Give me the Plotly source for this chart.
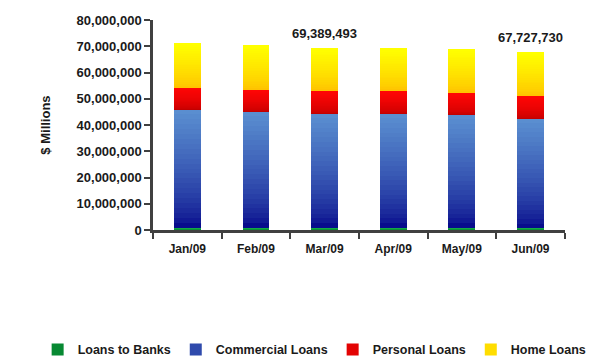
import plotly.graph_objects as go

months = ["Jan/09", "Feb/09", "Mar/09", "Apr/09", "May/09", "Jun/09"]
loans_to_banks = [820000, 810000, 820000, 810000, 800000, 700000]
commercial_loans = [45200000, 44500000, 43600000, 43500000, 43100000, 41700000]
personal_loans = [8400000, 8300000, 8800000, 8900000, 8500000, 8800000]
home_loans = [16900000, 16800000, 16169493, 16100000, 16600000, 16527730]
labelled_months = ["Mar/09", "Jun/09"]

# name, values, bottom colour, top colour, gradient exponent
series = [
    ("Loans to Banks", loans_to_banks, (0, 120, 40), (20, 170, 70), 1.0),
    ("Commercial Loans", commercial_loans, (8, 12, 140), (90, 142, 208), 0.7),
    ("Personal Loans", personal_loans, (195, 0, 0), (255, 5, 5), 0.6),
    ("Home Loans", home_loans, (255, 195, 0), (255, 255, 0), 0.8),
]

N = 24
fig = go.Figure()


def lerp(c1, c2, t):
    return "rgb(%d,%d,%d)" % tuple(round(a + (b - a) * t) for a, b in zip(c1, c2))


for name, vals, cbot, ctop, gexp in series:
    for i in range(N):
        t = (i / (N - 1)) ** gexp
        show = (i == N // 3)
        fig.add_trace(go.Bar(
            x=months,
            y=[v / N for v in vals],
            name=name,
            legendgroup=name,
            showlegend=show,
            marker=dict(color=lerp(cbot, ctop, t), line=dict(width=0)),
            hoverinfo="skip",
        ))

font_fam = "Liberation Sans, Arial"
totals = [a + b + c + d for a, b, c, d in zip(loans_to_banks, commercial_loans, personal_loans, home_loans)]
for m, tot in zip(months, totals):
    if m in labelled_months:
        fig.add_annotation(x=m, y=tot, text="{:,}".format(tot), showarrow=False,
                           yanchor="bottom", yshift=5,
                           font=dict(family=font_fam, size=13, color="#1a1a1a", weight="bold"))

fig.update_layout(
    barmode="stack",
    bargap=0.61,
    width=601, height=358,
    margin=dict(l=153, r=36, t=20, b=128, autoexpand=False),
    plot_bgcolor="white", paper_bgcolor="white",
    font=dict(family=font_fam, color="#1a1a1a"),
    showlegend=True,
    legend=dict(orientation="h", x=-0.28, xanchor="left", y=-0.571, yanchor="middle",
                traceorder="normal", itemwidth=30,
                font=dict(size=12.5, family=font_fam, color="#1a1a1a", weight="bold")),
    xaxis=dict(showline=True, linecolor="#404040", linewidth=2.5, ticks="outside",
               tickson="boundaries", ticklen=6, tickwidth=2, tickcolor="#404040",
               ticklabelstandoff=6,
               tickfont=dict(size=12, family=font_fam, weight="bold"), showgrid=False, fixedrange=True),
    yaxis=dict(range=[0, 80000000], dtick=10000000, tickformat=",d",
               showline=True, linecolor="#404040", linewidth=2.5, ticks="outside",
               ticklen=6, tickwidth=2, tickcolor="#404040", showgrid=False, zeroline=False,
               tickfont=dict(size=13, family=font_fam, weight="bold"),
               title=dict(text="$ Millions", font=dict(size=13, family=font_fam, weight="bold"),
                          standoff=24)),
)

fig.write_html("out.html")
